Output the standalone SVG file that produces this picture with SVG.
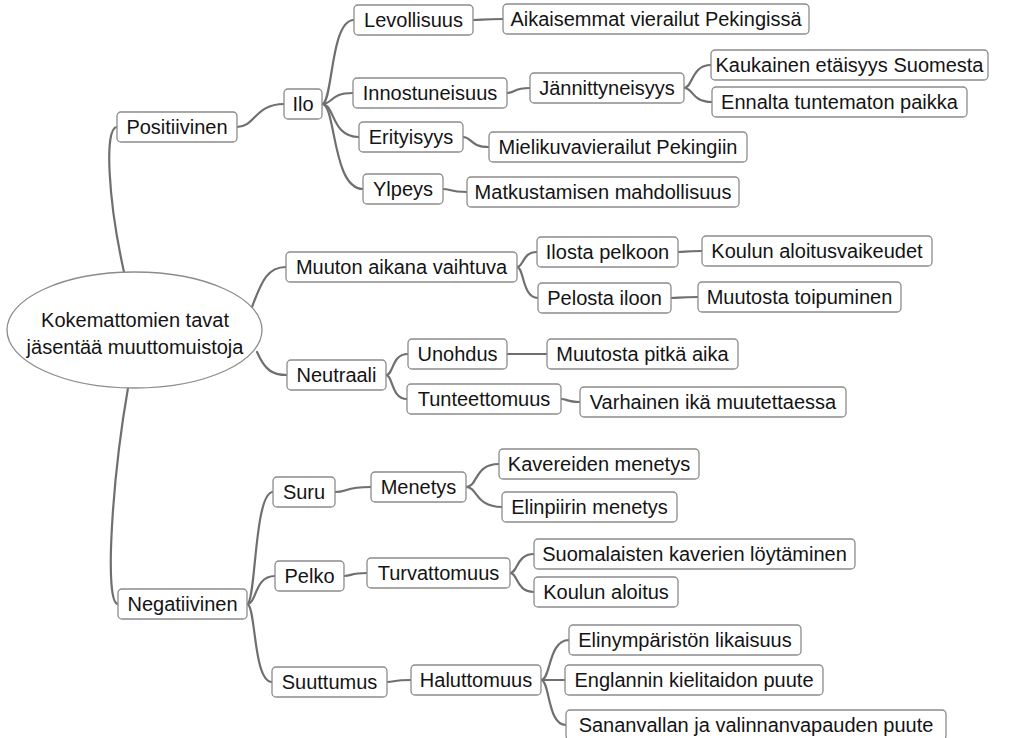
<svg xmlns="http://www.w3.org/2000/svg" width="1010" height="738" viewBox="0 0 1010 738">
<style>
.n rect{fill:#fff;stroke:#8c8c8c;stroke-width:1.3}
.n ellipse{fill:#fff;stroke:#8c8c8c;stroke-width:1.3}
text{font-family:"Liberation Sans",Arial,sans-serif;font-size:20px;fill:#141414;text-anchor:middle}
#connectors path{fill:none;stroke:#6f6f6f;stroke-width:2.2;stroke-linecap:round}
</style>
<rect width="1010" height="738" fill="#fff"/>
<g id="connectors">
<path d="M124,272 C108,200 104,127 117,127"/>
<path d="M128,388 C112,480 104,604 118,604"/>
<path d="M252,307 C262,280 268,267 286,267"/>
<path d="M257,352 C265,370 272,375 287,375"/>
<path d="M237,127 C255,127 255,104 284,104"/>
<path d="M322,104 C333,104 330,20 354,20"/>
<path d="M322,104 C333,104 330,93 353,93"/>
<path d="M322,104 C335,104 331,137 359,137"/>
<path d="M322,104 C336,104 332,189 363,189"/>
<path d="M473,20 C484,20 481,19 503,19"/>
<path d="M507,93 C515,93 513,88 530,88"/>
<path d="M684,88 C693,88 691,65 711,65"/>
<path d="M684,88 C694,88 691,102 712,102"/>
<path d="M463,137 C472,137 470,147 489,147"/>
<path d="M443,189 C451,189 449,192 467,192"/>
<path d="M517,267 C524,267 522,252 537,252"/>
<path d="M517,267 C524,267 522,298 538,298"/>
<path d="M678,252 C686,252 684,251 702,251"/>
<path d="M671,298 C680,298 678,297 698,297"/>
<path d="M386,375 C394,375 391,354 408,354"/>
<path d="M386,375 C393,375 391,399 407,399"/>
<path d="M507,354 L547,354"/>
<path d="M561,399 C568,399 566,402 580,402"/>
<path d="M247,604 C256,604 254,492 273,492"/>
<path d="M247,604 C257,604 254,576 275,576"/>
<path d="M247,604 C256,604 253,682 272,682"/>
<path d="M335,492 C348,492 344,487 371,487"/>
<path d="M466,487 C478,487 474,464 499,464"/>
<path d="M466,487 C478,487 475,507 502,507"/>
<path d="M344,576 C352,576 350,573 367,573"/>
<path d="M510,573 C518,573 516,554 534,554"/>
<path d="M510,573 C518,573 516,592 534,592"/>
<path d="M387,682 C395,682 393,680 411,680"/>
<path d="M541,680 C551,680 548,640 569,640"/>
<path d="M541,680 L565,680"/>
<path d="M541,680 C550,680 547,725 566,725"/>
</g>
<g id="root" class="n"><ellipse cx="134.5" cy="330" rx="127.5" ry="58"/><text x="135" y="327">Kokemattomien tavat</text><text x="135" y="354">jäsentää muuttomuistoja</text></g>
<g id="pos" class="n"><rect x="117" y="112" width="120" height="30" rx="4"/><text x="177" y="134">Positiivinen</text></g>
<g id="ilo" class="n"><rect x="284" y="89" width="38" height="30" rx="4"/><text x="303" y="111">Ilo</text></g>
<g id="lev" class="n"><rect x="354" y="5" width="119" height="30" rx="4"/><text x="413.5" y="27">Levollisuus</text></g>
<g id="inn" class="n"><rect x="353" y="78" width="154" height="30" rx="4"/><text x="430" y="100">Innostuneisuus</text></g>
<g id="eri" class="n"><rect x="359" y="122" width="104" height="30" rx="4"/><text x="411" y="144">Erityisyys</text></g>
<g id="ylp" class="n"><rect x="363" y="174" width="80" height="30" rx="4"/><text x="403" y="196">Ylpeys</text></g>
<g id="aik" class="n"><rect x="503" y="4" width="306" height="30" rx="4"/><text x="656" y="26">Aikaisemmat vierailut Pekingissä</text></g>
<g id="jan" class="n"><rect x="530" y="73" width="154" height="30" rx="4"/><text x="607" y="95">Jännittyneisyys</text></g>
<g id="kau" class="n"><rect x="711" y="50" width="277" height="30" rx="4"/><text x="849.5" y="72">Kaukainen etäisyys Suomesta</text></g>
<g id="enn" class="n"><rect x="712" y="87" width="255" height="30" rx="4"/><text x="839.5" y="109">Ennalta tuntematon paikka</text></g>
<g id="mie" class="n"><rect x="489" y="132" width="258" height="30" rx="4"/><text x="618" y="154">Mielikuvavierailut Pekingiin</text></g>
<g id="mat" class="n"><rect x="467" y="177" width="272" height="30" rx="4"/><text x="603" y="199">Matkustamisen mahdollisuus</text></g>
<g id="muu" class="n"><rect x="286" y="252" width="231" height="30" rx="4"/><text x="401.5" y="274">Muuton aikana vaihtuva</text></g>
<g id="neu" class="n"><rect x="287" y="360" width="99" height="30" rx="4"/><text x="336.5" y="382">Neutraali</text></g>
<g id="ilp" class="n"><rect x="537" y="237" width="141" height="30" rx="4"/><text x="607.5" y="259">Ilosta pelkoon</text></g>
<g id="pel" class="n"><rect x="538" y="283" width="133" height="30" rx="4"/><text x="604.5" y="305">Pelosta iloon</text></g>
<g id="kov" class="n"><rect x="702" y="236" width="230" height="30" rx="4"/><text x="817" y="258">Koulun aloitusvaikeudet</text></g>
<g id="mto" class="n"><rect x="698" y="282" width="203" height="30" rx="4"/><text x="799.5" y="304">Muutosta toipuminen</text></g>
<g id="uno" class="n"><rect x="408" y="339" width="99" height="30" rx="4"/><text x="457.5" y="361">Unohdus</text></g>
<g id="tun" class="n"><rect x="407" y="384" width="154" height="30" rx="4"/><text x="484" y="406">Tunteettomuus</text></g>
<g id="mpa" class="n"><rect x="547" y="339" width="191" height="30" rx="4"/><text x="642.5" y="361">Muutosta pitkä aika</text></g>
<g id="var" class="n"><rect x="580" y="387" width="266" height="30" rx="4"/><text x="713" y="409">Varhainen ikä muutettaessa</text></g>
<g id="neg" class="n"><rect x="118" y="589" width="129" height="30" rx="4"/><text x="182.5" y="611">Negatiivinen</text></g>
<g id="sur" class="n"><rect x="273" y="477" width="62" height="30" rx="4"/><text x="304" y="499">Suru</text></g>
<g id="plk" class="n"><rect x="275" y="561" width="69" height="30" rx="4"/><text x="309.5" y="583">Pelko</text></g>
<g id="suu" class="n"><rect x="272" y="667" width="115" height="30" rx="4"/><text x="329.5" y="689">Suuttumus</text></g>
<g id="men" class="n"><rect x="371" y="472" width="95" height="30" rx="4"/><text x="418.5" y="494">Menetys</text></g>
<g id="tur" class="n"><rect x="367" y="558" width="143" height="30" rx="4"/><text x="438.5" y="580">Turvattomuus</text></g>
<g id="hal" class="n"><rect x="411" y="665" width="130" height="30" rx="4"/><text x="476" y="687">Haluttomuus</text></g>
<g id="kme" class="n"><rect x="499" y="449" width="200" height="30" rx="4"/><text x="599" y="471">Kavereiden menetys</text></g>
<g id="eme" class="n"><rect x="502" y="492" width="175" height="30" rx="4"/><text x="589.5" y="514">Elinpiirin menetys</text></g>
<g id="suo" class="n"><rect x="534" y="539" width="321" height="30" rx="4"/><text x="694.5" y="561">Suomalaisten kaverien löytäminen</text></g>
<g id="kal" class="n"><rect x="534" y="577" width="144" height="30" rx="4"/><text x="606" y="599">Koulun aloitus</text></g>
<g id="eli" class="n"><rect x="569" y="625" width="232" height="30" rx="4"/><text x="685" y="647">Elinympäristön likaisuus</text></g>
<g id="eng" class="n"><rect x="565" y="665" width="258" height="30" rx="4"/><text x="694" y="687">Englannin kielitaidon puute</text></g>
<g id="san" class="n"><rect x="566" y="710" width="380" height="30" rx="4"/><text x="756" y="732">Sananvallan ja valinnanvapauden puute</text></g>
</svg>
